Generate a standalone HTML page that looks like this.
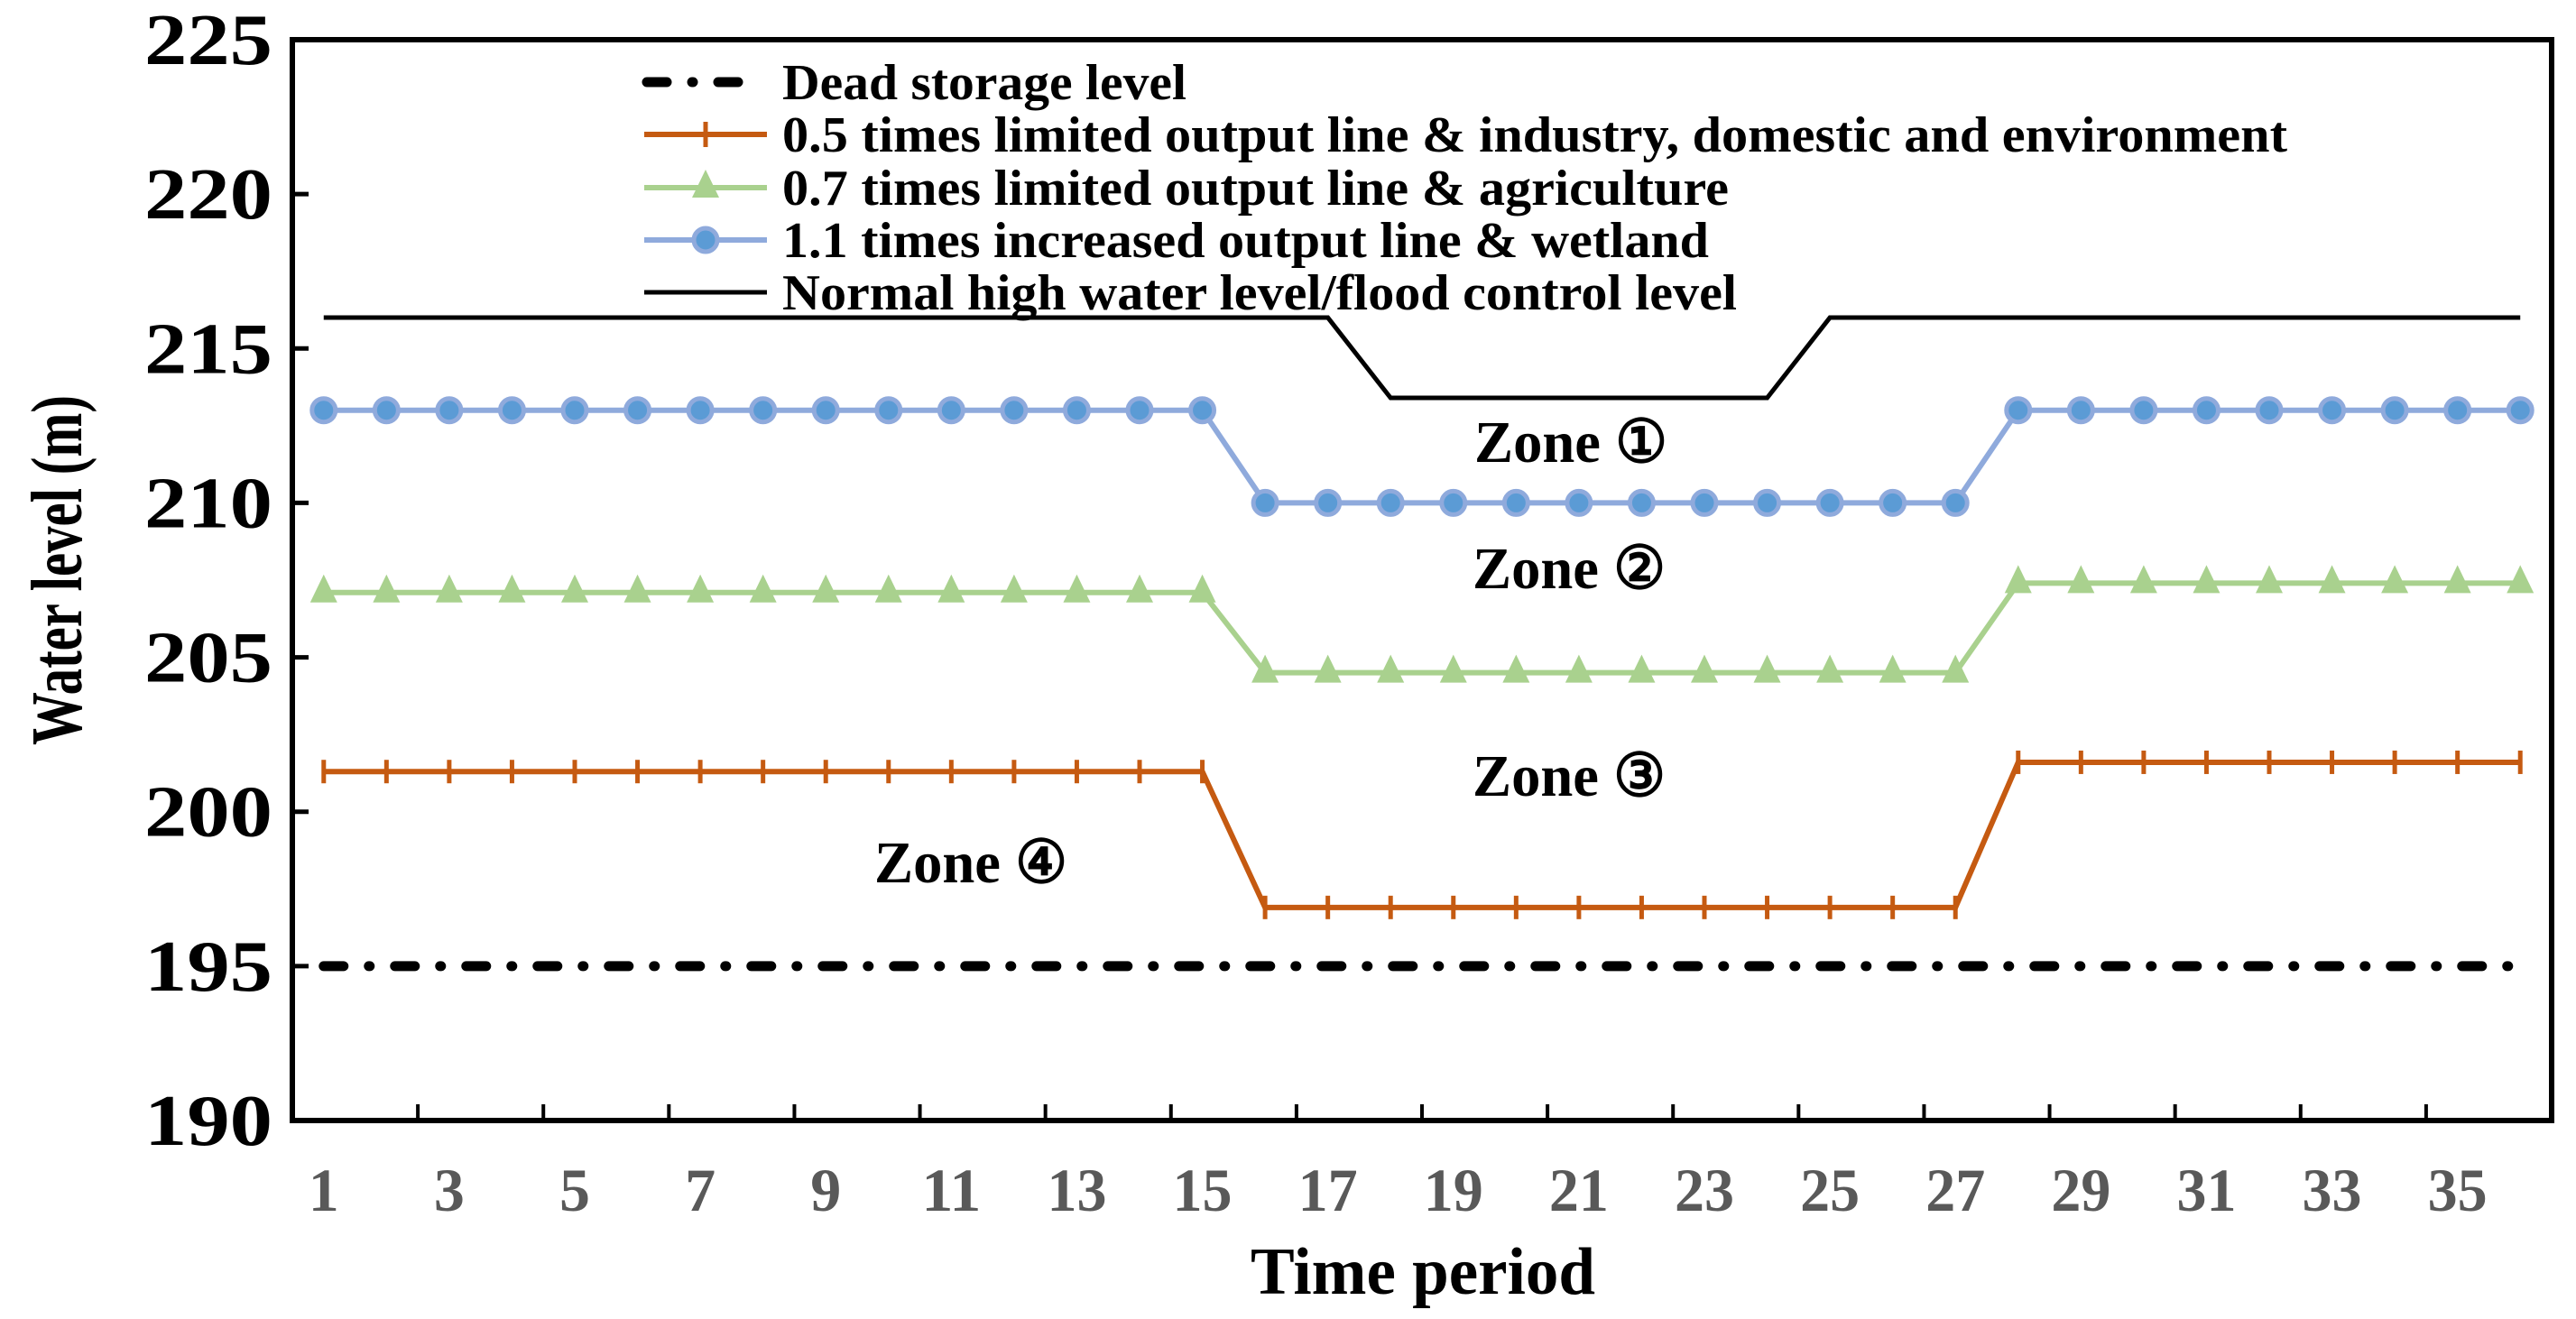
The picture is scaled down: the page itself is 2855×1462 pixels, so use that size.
<!DOCTYPE html>
<html><head><meta charset="utf-8">
<style>
html,body{margin:0;padding:0;background:#fff;}
svg{display:block;font-family:"Liberation Serif","DejaVu Serif",serif;font-weight:bold;}
</style></head>
<body>
<svg id="chart" width="2855" height="1462" viewBox="0 0 2855 1462" xmlns="http://www.w3.org/2000/svg">
<g id="grid"></g>
<g id="series"></g>
<g id="legend"></g>
<g id="labels"></g>
</svg>
<script>
const periods = Array.from({length:36},(_,i)=>i+1);
const yTicks = [190,195,200,205,210,215,220,225];
const xTickLabels = [1,3,5,7,9,11,13,15,17,19,21,23,25,27,29,31,33,35];
const deadLevel = [195,195,195,195,195,195,195,195,195,195,195,195,195,195,195,195,195,195,195,195,195,195,195,195,195,195,195,195,195,195,195,195,195,195,195,195];
const industryLine = [201.3,201.3,201.3,201.3,201.3,201.3,201.3,201.3,201.3,201.3,201.3,201.3,201.3,201.3,201.3,196.9,196.9,196.9,196.9,196.9,196.9,196.9,196.9,196.9,196.9,196.9,196.9,201.6,201.6,201.6,201.6,201.6,201.6,201.6,201.6,201.6];
const agricultureLine = [207.1,207.1,207.1,207.1,207.1,207.1,207.1,207.1,207.1,207.1,207.1,207.1,207.1,207.1,207.1,204.5,204.5,204.5,204.5,204.5,204.5,204.5,204.5,204.5,204.5,204.5,204.5,207.4,207.4,207.4,207.4,207.4,207.4,207.4,207.4,207.4];
const wetlandLine = [213,213,213,213,213,213,213,213,213,213,213,213,213,213,213,210,210,210,210,210,210,210,210,210,210,210,210,213,213,213,213,213,213,213,213,213];
const normalHigh = [216,216,216,216,216,216,216,216,216,216,216,216,216,216,216,216,216,213.4,213.4,213.4,213.4,213.4,213.4,213.4,216,216,216,216,216,216,216,216,216,216,216,216];

const NS="http://www.w3.org/2000/svg";
const L=324,R=2828,T=44,B=1242,yMin=190,yMax=225;
const cw=(R-L)/periods.length;
const X=p=>L+(p-0.5)*cw;
const Y=v=>B-(v-yMin)/(yMax-yMin)*(B-T);
function mk(tag,attrs,parent){const e=document.createElementNS(NS,tag);for(const k in attrs)e.setAttribute(k,attrs[k]);parent.appendChild(e);return e;}
const grid=document.getElementById('grid'),ser=document.getElementById('series'),leg=document.getElementById('legend'),lab=document.getElementById('labels');

let fr=mk('rect',{x:L,y:T,width:R-L,height:B-T,fill:'none',stroke:'#000','stroke-width':6},grid);


yTicks.forEach(v=>{
  let t=mk('line',{x1:L,x2:L+18,y1:Y(v),y2:Y(v),stroke:'#000','stroke-width':5},grid);
  
  
  let tx=mk('text',{x:302,y:Y(v)+27,'text-anchor':'end','font-size':80,fill:'#000',textLength:142,lengthAdjust:'spacingAndGlyphs'},lab);
  tx.textContent=v;
  
  
});
for(let k=1;k<periods.length/2;k++){
  let t=mk('line',{x1:L+2*k*cw,x2:L+2*k*cw,y1:B,y2:B-18,stroke:'#000','stroke-width':4},grid);
  
  
}
xTickLabels.forEach(p=>{
  const a={x:X(p),y:1342,'text-anchor':'middle','font-size':68,fill:'#595959'};
  if(p>=10){a.textLength=66;a.lengthAdjust='spacingAndGlyphs';}
  let tx=mk('text',a,lab);
  tx.textContent=p;
  
  
});
let xt=mk('text',{x:1577,y:1434,'text-anchor':'middle','font-size':74,textLength:382,lengthAdjust:'spacingAndGlyphs'},lab);
xt.textContent='Time period';


let yt=mk('text',{x:0,y:0,'text-anchor':'middle','font-size':80,textLength:388,lengthAdjust:'spacingAndGlyphs',transform:'translate(90,632) rotate(-90)'},lab);
yt.textContent='Water level (m)';



function pts(arr){return arr.map((v,i)=>X(periods[i])+','+Y(v)).join(' ');}
let nh=mk('polyline',{points:pts(normalHigh),fill:'none',stroke:'#000','stroke-width':5},ser);


let dl=mk('polyline',{points:pts(deadLevel),fill:'none',stroke:'#000','stroke-width':11,'stroke-dasharray':'22,28,1,28','stroke-linecap':'round'},ser);


let il=mk('polyline',{points:pts(industryLine),fill:'none',stroke:'#c55a11','stroke-width':6},ser);


industryLine.forEach((v,i)=>{
  let m=mk('line',{x1:X(periods[i]),x2:X(periods[i]),y1:Y(v)-13,y2:Y(v)+13,stroke:'#c55a11','stroke-width':5},ser);
  
  
});
let al=mk('polyline',{points:pts(agricultureLine),fill:'none',stroke:'#a9d18e','stroke-width':6},ser);


agricultureLine.forEach((v,i)=>{
  const x=X(periods[i]),y=Y(v);
  let m=mk('polygon',{points:`${x},${y-20} ${x-15},${y+11} ${x+15},${y+11}`,fill:'#a9d18e'},ser);
  
  
});
let wl=mk('polyline',{points:pts(wetlandLine),fill:'none',stroke:'#8faadc','stroke-width':6},ser);


wetlandLine.forEach((v,i)=>{
  let m=mk('circle',{cx:X(periods[i]),cy:Y(v),r:13,fill:'#5b9bd5',stroke:'#8faadc','stroke-width':5},ser);
  
  
});

const legNames=['Dead storage level','0.5 times limited output line & industry, domestic and environment','0.7 times limited output line & agriculture','1.1 times increased output line & wetland','Normal high water level/flood control level'];
const legW=[448,1668,1049,1027,1058];
const legY=[91,149,208,266,324];
legNames.forEach((n,i)=>{
  const y=legY[i];
  if(i===0){
    let s=mk('line',{x1:717,x2:842,y1:y,y2:y,stroke:'#000','stroke-width':11,'stroke-dasharray':'22,28,1,28','stroke-linecap':'round'},leg);
    
    
  }else{
    const col=['','#c55a11','#a9d18e','#8faadc','#000'][i];
    let s=mk('line',{x1:714,x2:850,y1:y,y2:y,stroke:col,'stroke-width':i===4?5:6},leg);
    
    
    if(i===1){let m=mk('line',{x1:782,x2:782,y1:y-14,y2:y+14,stroke:col,'stroke-width':5},leg);}
    if(i===2){let m=mk('polygon',{points:`782,${y-20} 767,${y+11} 797,${y+11}`,fill:col},leg);}
    if(i===3){let m=mk('circle',{cx:782,cy:y,r:13,fill:'#5b9bd5',stroke:col,'stroke-width':5},leg);}
  }
  let t=mk('text',{x:867,y:y+19,'font-size':56,textLength:legW[i],lengthAdjust:'spacingAndGlyphs'},leg);
  t.textContent=n;
  
  
});

const zones=[['Zone ①',1741,490],['Zone ②',1739,630],['Zone ③',1739,860],['Zone ④',1076,956]];
zones.forEach(z=>{
  let t=mk('text',{x:z[1],y:z[2]+22,'text-anchor':'middle','font-size':66,textLength:214,lengthAdjust:'spacingAndGlyphs'},lab);
  t.textContent=z[0];
  
  
});
</script>
</body></html>
